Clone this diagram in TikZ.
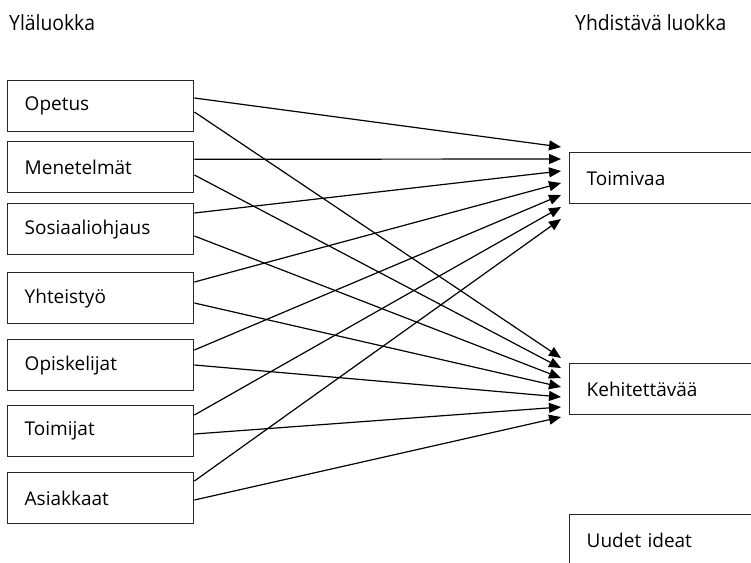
\documentclass[tikz,border=0pt]{standalone}
\usepackage{fontspec}
\setmainfont{Open Sans}
\newfontfamily\headfont[FakeStretch=0.92]{Open Sans}
\usetikzlibrary{arrows.meta}
\begin{document}
\begin{tikzpicture}[x=1pt,y=-1pt,
  box/.style={draw=black!85,line width=1.4pt,rectangle,anchor=north west,
    minimum width=186pt,minimum height=51pt,inner xsep=17pt,
    text width=152pt,align=left,font=\fontsize{19}{21}\selectfont},
  rbox/.style={box,minimum width=240pt,text width=206pt},
  head/.style={anchor=base west,inner sep=0pt,font=\headfont\fontsize{21}{24}\selectfont},
  link/.style={line width=1.2pt,-{Triangle[length=12pt,width=10pt]}}]
\useasboundingbox (0,0) rectangle (751,562);
\clip (0,0) rectangle (751,562);

% column headings
\node[head] (hl) at (9,30) {Yläluokka};
\node[head] (hr) at (575,30) {Yhdistävä luokka};

% upper-level categories
\node[box] (opetus) at (7,80)  {Opetus};
\node[box] (menet)  at (7,141) {Menetelmät};
\node[box] (sosi)   at (7,203) {Sosiaaliohjaus};
\node[box] (yht)    at (7,272) {Yhteistyö};
\node[box] (opis)   at (7,339) {Opiskelijat};
\node[box] (toim)   at (7,405) {Toimijat};
\node[box] (asia)   at (7,472) {Asiakkaat};

% combining categories
\node[rbox] (toimivaa) at (569,152) {Toimivaa};
\node[rbox] (kehit)    at (569,363) {Kehitettävää};
\node[rbox] (uudet)    at (569,514) {Uudet ideat};

% line start points on the box edges
\coordinate (opetusA) at ([yshift=-18pt]opetus.north east);
\coordinate (opetusB) at ([yshift=-32pt]opetus.north east);
\coordinate (menetA)  at ([yshift=-18.3pt]menet.north east);
\coordinate (menetB)  at ([yshift=-34pt]menet.north east);
\coordinate (sosiA)   at ([yshift=-10pt]sosi.north east);
\coordinate (sosiB)   at ([yshift=-33pt]sosi.north east);
\coordinate (yhtA)    at ([yshift=-10pt]yht.north east);
\coordinate (yhtB)    at ([yshift=-31pt]yht.north east);
\coordinate (opisA)   at ([yshift=-11pt]opis.north east);
\coordinate (opisB)   at ([yshift=-26pt]opis.north east);
\coordinate (toimA)   at ([yshift=-10pt]toim.north east);
\coordinate (toimB)   at ([yshift=-29pt]toim.north east);
\coordinate (asiaA)   at ([yshift=-9pt]asia.north east);
\coordinate (asiaB)   at ([yshift=-28pt]asia.north east);

% arrow tips in front of the right-hand boxes
\coordinate (t1) at (561,147);
\coordinate (t2) at (561,159);
\coordinate (t3) at (561,171);
\coordinate (t4) at (561,183);
\coordinate (t5) at (561,195);
\coordinate (t6) at (561,207);
\coordinate (t7) at (561,219);
\coordinate (k1) at (561,358);
\coordinate (k2) at (561,368);
\coordinate (k3) at (561,378);
\coordinate (k4) at (561,387);
\coordinate (k5) at (561,397);
\coordinate (k6) at (561,407);
\coordinate (k7) at (561,417);

\draw[link] (opetusA) -- (t1);
\draw[link] (menetA)  -- (t2);
\draw[link] (sosiA)   -- (t3);
\draw[link] (yhtA)    -- (t4);
\draw[link] (opisA)   -- (t5);
\draw[link] (toimA)   -- (t6);
\draw[link] (asiaA)   -- (t7);
\draw[link] (opetusB) -- (k1);
\draw[link] (menetB)  -- (k2);
\draw[link] (sosiB)   -- (k3);
\draw[link] (yhtB)    -- (k4);
\draw[link] (opisB)   -- (k5);
\draw[link] (toimB)   -- (k6);
\draw[link] (asiaB)   -- (k7);
\end{tikzpicture}
\end{document}
